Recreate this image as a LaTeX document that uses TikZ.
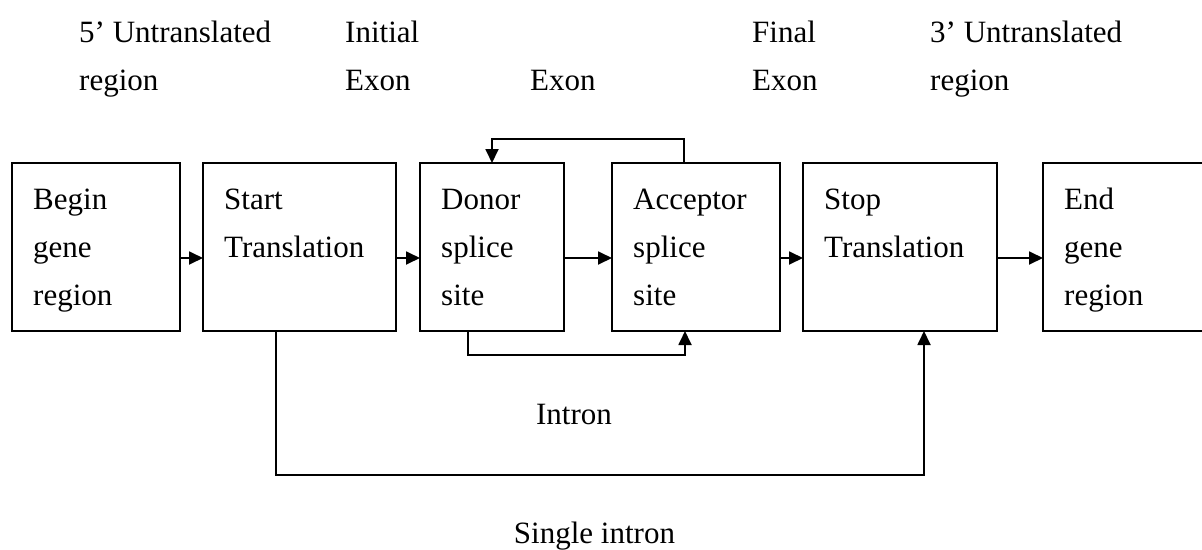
\documentclass[tikz,border=0pt]{standalone}
\usepackage{fontspec}
\setmainfont{Liberation Serif}
\usetikzlibrary{arrows.meta}
% left-aligned block of lines, baseline on the first line
\newcommand{\lblock}[1]{\begin{tabular}[t]{@{}l@{}}#1\end{tabular}}
\begin{document}
\begin{tikzpicture}[x=1pt,y=-1pt,
  box/.style={draw, line width=1.8pt, rectangle, inner sep=0pt, outer sep=0pt,
              anchor=north west, minimum height=168pt},
  txt/.style={anchor=base west, inner sep=0pt, font=\fontsize{31}{48}\selectfont},
  ctxt/.style={anchor=base, inner sep=0pt, font=\fontsize{31}{48}\selectfont},
  link/.style={line width=1.8pt, -{Triangle[length=14pt,width=13pt]}}]
\useasboundingbox (0,0) rectangle (1202,549);
\clip (0,0) rectangle (1202,549);

% state boxes
\node[box, minimum width=168pt] (begin)    at (12,163)   {};
\node[box, minimum width=193pt] (start)    at (203,163)  {};
\node[box, minimum width=144pt] (donor)    at (420,163)  {};
\node[box, minimum width=168pt] (acceptor) at (612,163)  {};
\node[box, minimum width=194pt] (stop)     at (803,163)  {};
\node[box, minimum width=180pt] (end)      at (1043,163) {};

% box texts
\node[txt] (tbegin)    at (33,209)   {\lblock{Begin\\gene\\region}};
\node[txt] (tstart)    at (224,209)  {\lblock{Start\\Translation}};
\node[txt] (tdonor)    at (441,209)  {\lblock{Donor\\splice\\site}};
\node[txt] (tacceptor) at (633,209)  {\lblock{Acceptor\\splice\\site}};
\node[txt] (tstop)     at (824,209)  {\lblock{Stop\\Translation}};
\node[txt] (tend)      at (1064,209) {\lblock{End\\gene\\region}};

% region labels above
\node[txt] (utr5)   at (79,42)  {\lblock{5’ Untranslated\\region}};
\node[txt] (initex) at (345,42) {\lblock{Initial\\Exon}};
\node[txt] (exon)   at (530,90) {Exon};
\node[txt] (finex)  at (752,42) {\lblock{Final\\Exon}};
\node[txt] (utr3)   at (930,42) {\lblock{3’ Untranslated\\region}};

% labels below
\node[ctxt] (intron) at (574,424) {Intron};
\node[ctxt] (single) at (594.5,543) {Single intron};

% forward transitions
\draw[link] ([yshift=-11pt]begin.east)    -- ([yshift=-11pt]start.west);
\draw[link] ([yshift=-11pt]start.east)    -- ([yshift=-11pt]donor.west);
\draw[link] ([yshift=-11pt]donor.east)    -- ([yshift=-11pt]acceptor.west);
\draw[link] ([yshift=-11pt]acceptor.east) -- ([yshift=-11pt]stop.west);
\draw[link] ([yshift=-11pt]stop.east)     -- ([yshift=-11pt]end.west);

% exon loop back over the top
\draw[link] ([xshift=-12pt]acceptor.north) -- ++(0,-24) -| (donor.north);
% intron path below
\draw[link] ([xshift=-24pt]donor.south) -- ++(0,24) -| ([xshift=-11pt]acceptor.south);
% single intron path
\draw[link] ([xshift=-23.5pt]start.south) -- ++(0,144) -| ([xshift=24pt]stop.south);
\end{tikzpicture}
\end{document}
